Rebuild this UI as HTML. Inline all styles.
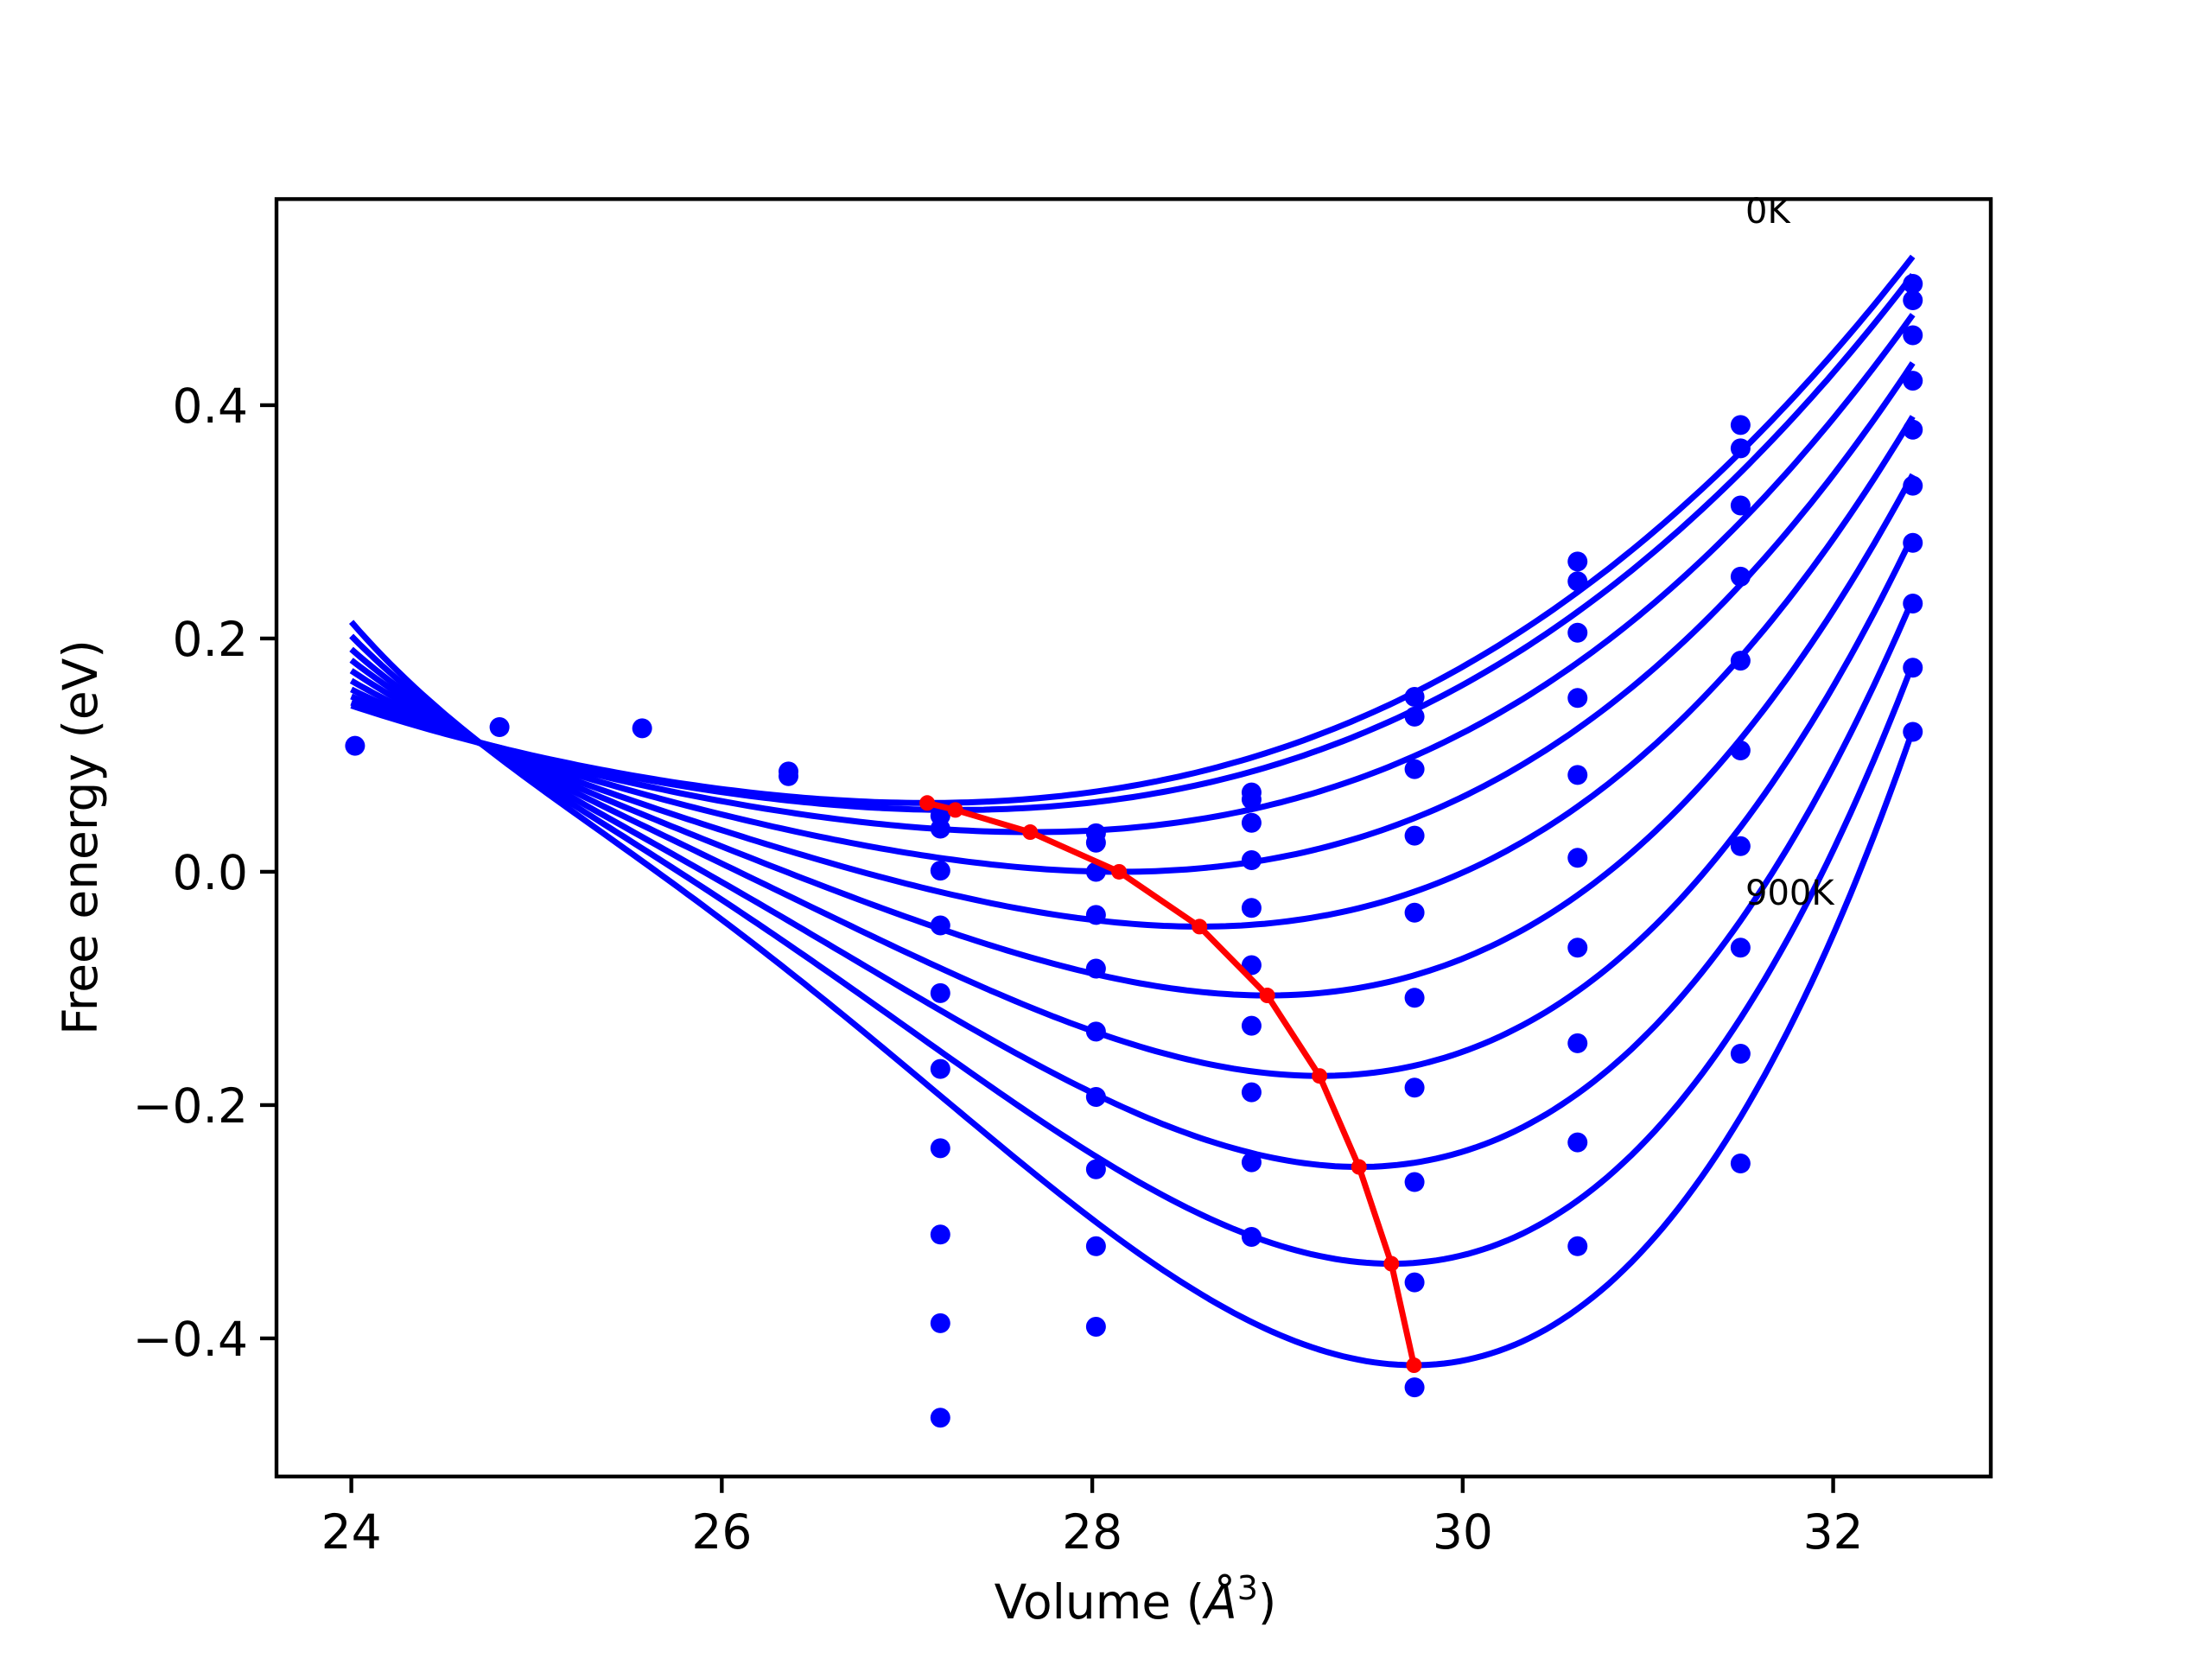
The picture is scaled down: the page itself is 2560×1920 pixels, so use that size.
<!DOCTYPE html>
<html><head><meta charset="utf-8"><style>
html,body{margin:0;padding:0;background:#fff;}
svg{display:block;font-family:"DejaVu Sans","Liberation Sans",sans-serif;}
</style></head><body>
<svg id="chart" width="2560" height="1920" viewBox="0 0 2560 1920" xmlns="http://www.w3.org/2000/svg">
<rect x="0" y="0" width="2560" height="1920" fill="#fff"/>
<g id="plot"></g>
<rect x="320" y="230.4" width="1984" height="1478.4" fill="none" stroke="#000" stroke-width="4.4"/>
<g id="axes"></g>
<text x="2020" y="258" font-size="40">0K</text>
<text x="2020" y="1047" font-size="40">900K</text>
<text x="1314" y="1873" font-size="55" text-anchor="middle">Volume (<tspan font-style="italic">Å</tspan><tspan font-size="38" dy="-22">3</tspan><tspan dy="22">)</tspan></text>
<text x="0" y="0" font-size="55" text-anchor="middle" transform="translate(112,969) rotate(-90)">Free energy (eV)</text>
</svg>
<script>
const temperatures = [0,100,200,300,400,500,600,700,800,900];
const minVolumes = [27.109,27.261,27.665,28.145,28.579,28.945,29.227,29.44,29.615,29.737];
const minEnergies = [0.059,0.053,0.034,0.000,-0.047,-0.106,-0.175,-0.253,-0.336,-0.423];
const curveKnotVolumes = [24.0,24.75,26.0,30.62,32.43];
const curveAt24 = [0.141,0.144,0.148,0.153,0.159,0.167,0.175,0.183,0.193,0.204];
const curveAt2475 = [0.109,0.109,0.109,0.109,0.109,0.109,0.109,0.109,0.109,0.109];
const curveAt26 = [0.072,0.066,0.052,0.039,0.023,0.007,-0.010,-0.029,-0.047,-0.066];
const curveAt3062 = [0.238,0.222,0.178,0.120,0.050,-0.024,-0.104,-0.190,-0.277,-0.369];
const curveAt3243 = [0.528,0.512,0.478,0.437,0.392,0.342,0.290,0.236,0.181,0.125];
const pointVolumes = [24.02,24.80,25.57,26.36,27.18,28.02,28.86,29.74,30.62,31.50,32.43];
const pointEnergies = [
 [0.108],[0.124],[0.123],[0.086,0.082],
 [0.048,0.037,0.001,-0.046,-0.104,-0.169,-0.237,-0.311,-0.387,-0.468],
 [0.033,0.025,0.000,-0.037,-0.083,-0.137,-0.193,-0.255,-0.321,-0.390],
 [0.068,0.062,0.042,0.010,-0.031,-0.080,-0.132,-0.189,-0.249,-0.313],
 [0.150,0.133,0.088,0.031,-0.035,-0.108,-0.185,-0.266,-0.352,-0.442],
 [0.266,0.249,0.205,0.149,0.083,0.012,-0.065,-0.147,-0.232,-0.321],
 [0.383,0.363,0.314,0.253,0.181,0.104,0.022,-0.065,-0.156,-0.250],
 [0.504,0.490,0.460,0.421,0.379,0.331,0.282,0.230,0.175,0.120]
];
const xTicks = [24,26,28,30,32];
const yTicks = [0.4,0.2,0.0,-0.2,-0.4];
const yTickLabels = ["0.4","0.2","0.0","\u22120.2","\u22120.4"];
const knotWeights = [1,5,1,1,1];

const AX={l:320,r:2304,t:230.4,b:1708.8}, XR=[23.596,32.851], YR=[-0.5184,0.5767];
const sx=v=>AX.l+(v-XR[0])/(XR[1]-XR[0])*(AX.r-AX.l);
const sy=e=>AX.b-(e-YR[0])/(YR[1]-YR[0])*(AX.b-AX.t);
const NS="http://www.w3.org/2000/svg";
const plot=document.getElementById('plot'), axes=document.getElementById('axes');
function mk(tag,attrs,parent){const el=document.createElementNS(NS,tag);for(const k in attrs)el.setAttribute(k,attrs[k]);parent.appendChild(el);return el;}
function solve3(A,b){const M=A.map((r,i)=>[...r,b[i]]);for(let i=0;i<3;i++){let p=i;for(let j=i+1;j<3;j++)if(Math.abs(M[j][i])>Math.abs(M[p][i]))p=j;[M[i],M[p]]=[M[p],M[i]];for(let j=i+1;j<3;j++){const f=M[j][i]/M[i][i];for(let k=i;k<4;k++)M[j][k]-=f*M[i][k];}}const x=[0,0,0];for(let i=2;i>=0;i--){let s=M[i][3];for(let k=i+1;k<3;k++)s-=M[i][k]*x[k];x[i]=s/M[i][i];}return x;}
const cp=document.createElementNS(NS,'clipPath');cp.setAttribute('id','clip');mk('rect',{x:AX.l,y:AX.t,width:AX.r-AX.l,height:AX.b-AX.t},cp);plot.appendChild(cp);
temperatures.forEach((T,i)=>{
  const V0=minVolumes[i],E0=minEnergies[i];
  const vals=[curveAt24[i],curveAt2475[i],curveAt26[i],curveAt3062[i],curveAt3243[i]];
  const rows=curveKnotVolumes.map(v=>{const a=Math.pow(V0/v,2/3)-1;return [a*a,a*a*a,a*a*a*a];});
  const A=[[0,0,0],[0,0,0],[0,0,0]],b=[0,0,0];
  rows.forEach((r,k)=>{const w=knotWeights[k];for(let p=0;p<3;p++){b[p]+=w*r[p]*(vals[k]-E0);for(let q=0;q<3;q++)A[p][q]+=w*r[p]*r[q];}});
  const c=solve3(A,b);
  let d='';
  for(let s=0;s<=200;s++){const v=24+(32.43-24)*s/200;const a=Math.pow(V0/v,2/3)-1;const e=E0+c[0]*a*a+c[1]*a*a*a+c[2]*a*a*a*a;d+=(s?'L':'M')+sx(v).toFixed(1)+' '+sy(e).toFixed(1);}
  const p=mk('path',{d:d,fill:'none',stroke:'#0000ff','stroke-width':7,'clip-path':'url(#clip)'},plot);
  
  
});
pointVolumes.forEach((v,i)=>{pointEnergies[i].forEach((e,j)=>{
  const c=mk('circle',{cx:sx(v),cy:sy(e),r:11.5,fill:'#0000ff'},plot);
  
  
});});
let rd='';minVolumes.forEach((v,i)=>{rd+=(i?'L':'M')+sx(v).toFixed(1)+' '+sy(minEnergies[i]).toFixed(1);});
const rl=mk('path',{d:rd,fill:'none',stroke:'#ff0000','stroke-width':7,'stroke-linejoin':'round'},plot);


minVolumes.forEach((v,i)=>{
  const c=mk('circle',{cx:sx(v),cy:sy(minEnergies[i]),r:9,fill:'#ff0000'},plot);
  
  
});
xTicks.forEach(t=>{
  const l=mk('line',{x1:sx(t),x2:sx(t),y1:AX.b,y2:AX.b+19,stroke:'#000','stroke-width':4.4},axes);
  
  
  const tx=mk('text',{x:sx(t),y:AX.b+83,'font-size':55,'text-anchor':'middle'},axes);tx.textContent=String(t);
  
  
});
yTicks.forEach((t,i)=>{
  const l=mk('line',{x1:AX.l-19,x2:AX.l,y1:sy(t),y2:sy(t),stroke:'#000','stroke-width':4.4},axes);
  
  
  const tx=mk('text',{x:AX.l-33,y:sy(t)+20,'font-size':55,'text-anchor':'end'},axes);tx.textContent=yTickLabels[i];
  
  
});
</script>
</body></html>
